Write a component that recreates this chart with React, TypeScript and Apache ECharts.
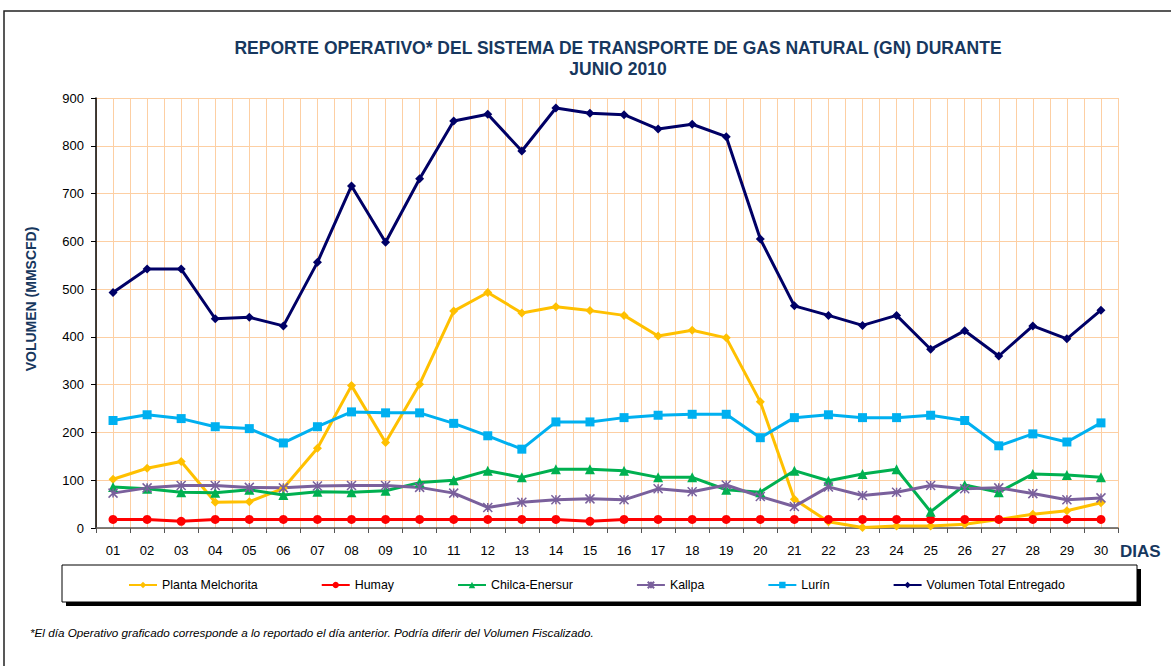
import React, { useEffect, useRef } from "react";
import * as echarts from "echarts";

const days = ["01","02","03","04","05","06","07","08","09","10","11","12","13","14","15","16","17","18","19","20","21","22","23","24","25","26","27","28","29","30"];
const yTicks = [0, 900, 100];

const melchorita = [102,125,139,54,55,83,167,298,179,301,454,493,450,463,455,445,402,414,398,264,60,13,1,4,4,8,18,29,36,53];
const humay = [18,18,14,18,18,18,18,18,18,18,18,18,18,18,14,18,18,18,18,18,18,18,18,18,18,18,18,18,18,18];
const chilca = [86,82,75,74,80,69,76,75,78,95,100,120,106,123,123,120,106,106,80,75,120,99,113,123,34,90,75,113,111,106];
const kallpa = [73,84,89,89,85,84,88,89,89,85,73,43,54,59,61,59,82,76,90,66,45,86,68,75,89,82,84,72,59,63];
const lurin = [225,237,229,212,208,178,212,243,241,241,219,193,165,222,222,231,236,238,238,189,231,237,231,231,236,225,172,197,180,220];
const total = [493,542,542,438,441,423,556,716,598,731,852,866,789,879,868,865,835,845,819,605,465,445,424,445,374,413,360,423,396,456];

const seriesNames = ["Planta Melchorita","Humay","Chilca-Enersur","Kallpa","Lurín","Volumen Total Entregado"];

const FONT = "'Liberation Sans', Arial, sans-serif";
const NAVY = "#17375E";
const GRID = "#FDCFA3";

export default function App() {
  const ref = useRef<HTMLDivElement>(null);
  useEffect(() => {
    if (!ref.current) return;
    const chart = echarts.init(ref.current, null, { renderer: "svg" });
    const mk = (name: string, data: number[], color: string, symbol: string, size: number, extra: any = {}) => ({
      name,
      type: "line",
      xAxisIndex: 0,
      data,
      symbol,
      symbolSize: size,
      showSymbol: true,
      lineStyle: { color, width: 3 },
      itemStyle: { color, ...extra },
      z: 3,
    });
    chart.setOption({
      animation: false,
      textStyle: { fontFamily: FONT },
      title: {
        text: "REPORTE OPERATIVO* DEL SISTEMA DE TRANSPORTE DE GAS NATURAL (GN) DURANTE\nJUNIO 2010",
        left: 613,
        top: 32,
        textAlign: "center",
        textStyle: { fontFamily: FONT, fontSize: 17.5, fontWeight: "bold", color: NAVY, lineHeight: 21 },
      },
      grid: { left: 96, right: 53, top: 98, bottom: 138, containLabel: false },
      legend: {
        left: 128,
        top: 579,
        padding: 0,
        itemGap: 63,
        itemWidth: 28,
        itemHeight: 8,
        z: 10,
        data: seriesNames,
        textStyle: { fontFamily: FONT, fontSize: 12.4, color: "#000" },
        lineStyle: { width: 2 },
      },
      xAxis: [
        {
          type: "category",
          data: days,
          boundaryGap: true,
          axisLine: { lineStyle: { color: "#555", width: 1.5 } },
          axisTick: { show: true, length: 5, lineStyle: { color: "#555" } },
          axisLabel: { fontFamily: FONT, fontSize: 13, color: "#000", margin: 16 },
          splitLine: { show: false },
          z: 2,
        },
        {
          type: "value",
          min: 0,
          max: 60,
          interval: 1,
          position: "bottom",
          axisLine: { show: false },
          axisTick: { show: false },
          axisLabel: { show: false },
          splitLine: { show: true, lineStyle: { color: GRID, width: 1 } },
        },
      ],
      yAxis: {
        type: "value",
        min: yTicks[0],
        max: yTicks[1],
        interval: yTicks[2],
        axisLine: { show: true, lineStyle: { color: "#000", width: 1.5 } },
        axisTick: { show: true, length: 5, lineStyle: { color: "#000" } },
        axisLabel: { fontFamily: FONT, fontSize: 13, color: "#000", margin: 12 },
        splitLine: { show: true, lineStyle: { color: GRID, width: 1 } },
      },
      graphic: [
        {
          type: "rect",
          silent: true,
          z: 0,
          shape: { x: 4, y: 11, width: 1400, height: 900 },
          style: { fill: "none", stroke: "#222", lineWidth: 1.5 },
        },
        {
          type: "rect",
          silent: true,
          z: 0,
          shape: { x: 66, y: 569, width: 1075, height: 37 },
          style: { fill: "#000" },
        },
        {
          type: "rect",
          silent: true,
          z: 1,
          shape: { x: 62, y: 565, width: 1075, height: 37 },
          style: { fill: "#fff", stroke: "#000", lineWidth: 1 },
        },
        {
          type: "text",
          silent: true,
          x: 31,
          y: 299,
          rotation: Math.PI / 2,
          style: {
            text: "VOLUMEN (MMSCFD)",
            fill: NAVY,
            font: `bold 14px ${FONT}`,
            textAlign: "center",
            textVerticalAlign: "middle",
          },
        },
        {
          type: "text",
          silent: true,
          x: 1120,
          y: 551,
          style: { text: "DIAS", fill: NAVY, font: `bold 17px ${FONT}`, textVerticalAlign: "middle" },
        },
        {
          type: "text",
          silent: true,
          x: 30,
          y: 632,
          style: {
            text: "*El día Operativo graficado corresponde a lo reportado el día anterior. Podría diferir del Volumen Fiscalizado.",
            fill: "#000",
            font: `italic 11.7px ${FONT}`,
            textVerticalAlign: "middle",
          },
        },
      ],
      series: [
        mk(seriesNames[0], melchorita, "#FFC000", "diamond", 9),
        mk(seriesNames[1], humay, "#FF0000", "circle", 9),
        mk(seriesNames[2], chilca, "#00B050", "triangle", 10),
        mk(seriesNames[3], kallpa, "#7A609C", "path://M0,0L10,10M10,0L0,10M5,0L5,10", 9, { borderColor: "#7A609C", borderWidth: 1.5 }),
        mk(seriesNames[4], lurin, "#00B0F0", "rect", 9),
        mk(seriesNames[5], total, "#000066", "diamond", 9),
      ],
    });
    return () => chart.dispose();
  }, []);
  return (
    <div
      ref={ref}
      style={{ position: "absolute", left: 0, top: 0, width: 1171, height: 666, background: "#fff" }}
    />
  );
}
